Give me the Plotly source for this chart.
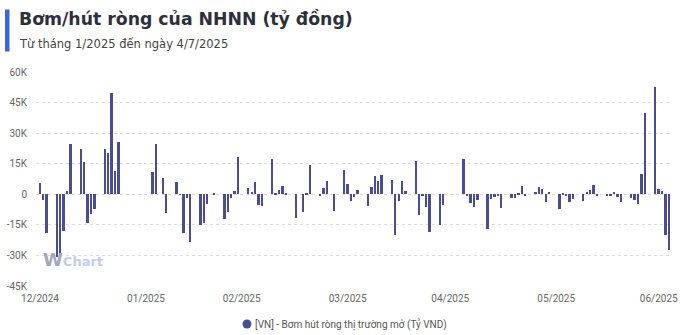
import plotly.graph_objects as go
import pandas as pd

# Net injection / withdrawal of the State Bank via open market operations (tỷ VND)
dates = [
    "2025-01-01", "2025-01-02", "2025-01-03",
    "2025-01-06", "2025-01-07", "2025-01-08", "2025-01-09", "2025-01-10",
    "2025-01-13", "2025-01-14", "2025-01-15", "2025-01-16", "2025-01-17",
    "2025-01-20", "2025-01-21", "2025-01-22", "2025-01-23", "2025-01-24",
    "2025-02-03", "2025-02-04", "2025-02-05", "2025-02-06", "2025-02-07",
    "2025-02-10", "2025-02-11", "2025-02-12", "2025-02-13", "2025-02-14",
    "2025-02-17", "2025-02-18", "2025-02-19", "2025-02-20", "2025-02-21",
    "2025-02-24", "2025-02-25", "2025-02-26", "2025-02-27", "2025-02-28",
    "2025-03-03", "2025-03-04", "2025-03-05", "2025-03-06", "2025-03-07",
    "2025-03-10", "2025-03-11", "2025-03-12", "2025-03-13", "2025-03-14",
    "2025-03-17", "2025-03-18", "2025-03-19", "2025-03-20", "2025-03-21",
    "2025-03-24", "2025-03-25", "2025-03-26", "2025-03-27", "2025-03-28",
    "2025-03-31", "2025-04-01", "2025-04-02", "2025-04-03", "2025-04-04",
    "2025-04-07", "2025-04-08", "2025-04-09", "2025-04-10", "2025-04-11",
    "2025-04-14", "2025-04-15", "2025-04-16", "2025-04-17", "2025-04-18",
    "2025-04-21", "2025-04-22", "2025-04-23", "2025-04-24", "2025-04-25",
    "2025-04-28", "2025-04-29",
    "2025-05-05", "2025-05-06", "2025-05-07", "2025-05-08", "2025-05-09",
    "2025-05-12", "2025-05-13", "2025-05-14", "2025-05-15", "2025-05-16",
    "2025-05-19", "2025-05-20", "2025-05-21", "2025-05-22", "2025-05-23",
    "2025-05-26", "2025-05-27", "2025-05-28", "2025-05-29", "2025-05-30",
    "2025-06-02", "2025-06-03", "2025-06-04", "2025-06-05", "2025-06-06",
    "2025-06-09", "2025-06-10", "2025-06-11", "2025-06-12", "2025-06-13",
    "2025-06-16", "2025-06-17", "2025-06-18", "2025-06-19", "2025-06-20",
    "2025-06-23", "2025-06-24", "2025-06-25", "2025-06-26", "2025-06-27",
    "2025-06-30", "2025-07-01", "2025-07-02", "2025-07-03", "2025-07-04",
]

net_flow = [
    5500, -2700, -19000,
    -31000, -30000, -17800, 1400, 24700,
    22200, 15700, -13900, -9600, -7300,
    22400, 20500, 49700, 11200, 25800,
    10700, 24800, 0, 7900, -9300,
    6100, -300, -19200, -1800, -23200,
    -15200, -13900, -4700, 0, 300,
    -12200, -8500, -1700, 1400, 18300,
    3100, 1100, 5800, -5200, -5800,
    17300, 400, 1900, 4000, 800,
    -11400, 0, -8800, 600, 14600,
    -400, 3100, 6600, 0, -8000,
    11800, 5200, -3400, -1200, 2200,
    -5700, 3600, 9000, 6600, 9700,
    6900, -20200, -3100, 6500, 1400,
    16500, -10400, -400, -6000, -18600,
    -15200, -5100,
    17300, -500, -4300, -6000, -2700,
    -17100, -2300, -1200, -1000, -6800,
    -1600, -1900, 600, 4200, -1000,
    1100, 3400, 2400, -4000, 1200,
    -7100, 300, -1000, -3900, -2300,
    -3200, 1200, 2200, 4700, -400,
    -1000, -900, 1000, -1200, -3900,
    -1600, -2600, -4900, 10100, 40000,
    52700, 2600, 1600, -19800, -27500,
]

month_ticks = ["2025-01-01", "2025-02-01", "2025-03-01", "2025-04-01",
               "2025-05-01", "2025-06-01", "2025-07-01"]
month_labels = ["12/2024", "01/2025", "02/2025", "03/2025",
                "04/2025", "05/2025", "06/2025"]

y_ticks = [-45000, -30000, -15000, 0, 15000, 30000, 45000, 60000]
y_labels = ["-45K", "-30K", "-15K", "0", "15K", "30K", "45K", "60K"]

title_text = "Bơm/hút ròng của NHNN (tỷ đồng)"
subtitle_text = "Từ tháng 1/2025 đến ngày 4/7/2025"
series_name = "[VN] - Bơm hút ròng thị trường mở (Tỷ VND)"

BAR_COLOR = "#4a4e8e"
DAY_MS = 86400000

W, H = 700, 335
L, R, T, B = 36, 29, 72, 49
PW, PH = W - L - R, H - T - B


def px(x):
    return (x - L) / PW


def py(y):
    return (H - B - y) / PH


fig = go.Figure()

fig.add_trace(go.Bar(
    x=dates,
    y=net_flow,
    width=0.55 * DAY_MS,
    marker=dict(color=BAR_COLOR, line=dict(width=0)),
    showlegend=False,
    name=series_name,
))

start = pd.Timestamp(dates[0]) - pd.Timedelta(hours=28)
end = pd.Timestamp(dates[-1]) + pd.Timedelta(hours=14)

fig.update_layout(
    width=W, height=H,
    margin=dict(l=L, r=R, t=T, b=B, pad=0, autoexpand=False),
    paper_bgcolor="white",
    plot_bgcolor="white",
    font=dict(family="Roboto, DejaVu Sans, sans-serif", size=10, color="#666666"),
    bargap=0,
    showlegend=False,
    xaxis=dict(
        type="date",
        range=[start, end],
        tickmode="array",
        tickvals=month_ticks,
        ticktext=month_labels,
        showgrid=False,
        zeroline=False,
        showline=False,
        ticks="",
        ticklabelstandoff=5,
        tickfont=dict(family="Roboto, sans-serif", size=10, color="#666666"),
        fixedrange=True,
    ),
    yaxis=dict(
        range=[-45000, 60000],
        tickmode="array",
        tickvals=y_ticks,
        ticktext=y_labels,
        showgrid=True,
        gridcolor="#dcdcdc",
        griddash="dot",
        gridwidth=1,
        zeroline=False,
        showline=False,
        ticks="",
        ticklabelstandoff=8,
        tickfont=dict(family="Roboto, sans-serif", size=10, color="#666666"),
        fixedrange=True,
    ),
)

# accent bar beside the heading
fig.add_shape(
    type="rect", xref="paper", yref="paper",
    x0=px(5), x1=px(9.5), y0=py(51.5), y1=py(9.5),
    fillcolor="#3d63dd", line=dict(width=0), layer="above",
)

fig.add_annotation(
    text=f"<b>{title_text}</b>",
    xref="paper", yref="paper", x=px(17), y=py(19),
    xanchor="left", yanchor="middle", showarrow=False,
    font=dict(family="DejaVu Sans, sans-serif", size=17.3, color="#2d2f3b"),
)
fig.add_annotation(
    text=subtitle_text,
    xref="paper", yref="paper", x=px(16.5), y=py(44),
    xanchor="left", yanchor="middle", showarrow=False,
    font=dict(family="DejaVu Sans, sans-serif", size=11.5, color="#444444"),
)

# series key below the axis: round swatch plus series name
fig.add_shape(
    type="circle", xref="paper", yref="paper",
    x0=px(242.5), x1=px(251.5), y0=py(328.5), y1=py(319.5),
    fillcolor=BAR_COLOR, line=dict(width=0),
)
fig.add_annotation(
    text=series_name,
    xref="paper", yref="paper", x=px(253), y=py(324),
    xanchor="left", yanchor="middle", showarrow=False,
    font=dict(family="Roboto, sans-serif", size=10, color="#555555"),
)

# brand mark in the lower-left of the plot
fig.add_annotation(
    text=("<b><span style='color:#a3a7ba;font-size:18px'>W</span>"
          "<span style='color:#c3cbef;font-size:13px'>Chart</span></b>"),
    xref="paper", yref="paper", x=px(41), y=py(259),
    xanchor="left", yanchor="middle", showarrow=False,
    font=dict(family="DejaVu Sans, sans-serif", size=13),
)

fig.write_html("out.html")
